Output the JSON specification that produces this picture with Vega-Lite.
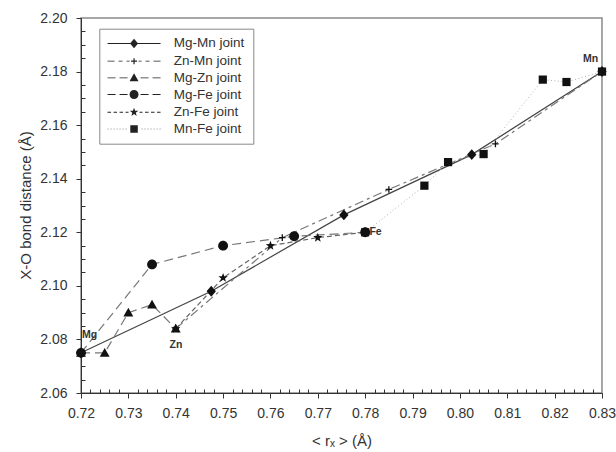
{
  "$schema": "https://vega.github.io/schema/vega-lite/v6.json",
  "width": 521,
  "height": 375,
  "autosize": "none",
  "padding": {"left": 81, "top": 18, "right": 14, "bottom": 59},
  "background": "white",
  "config": {"view": {"stroke": "#8a8a8a", "strokeWidth": 1.5}, "font": "Liberation Sans"},
  "resolve": {"scale": {"shape": "independent"}, "legend": {"shape": "independent"}},
  "datasets": {
    "pts": [
      {"series": "Mg-Mn joint", "x": 0.72, "y": 2.075},
      {"series": "Mg-Mn joint", "x": 0.7475, "y": 2.098},
      {"series": "Mg-Mn joint", "x": 0.7755, "y": 2.1265},
      {"series": "Mg-Mn joint", "x": 0.8025, "y": 2.149},
      {"series": "Mg-Mn joint", "x": 0.83, "y": 2.18},
      {"series": "Zn-Mn joint", "x": 0.74, "y": 2.084},
      {"series": "Zn-Mn joint", "x": 0.7625, "y": 2.118},
      {"series": "Zn-Mn joint", "x": 0.785, "y": 2.136},
      {"series": "Zn-Mn joint", "x": 0.8075, "y": 2.153},
      {"series": "Zn-Mn joint", "x": 0.83, "y": 2.18},
      {"series": "Mg-Zn joint", "x": 0.72, "y": 2.075},
      {"series": "Mg-Zn joint", "x": 0.725, "y": 2.075},
      {"series": "Mg-Zn joint", "x": 0.73, "y": 2.09},
      {"series": "Mg-Zn joint", "x": 0.735, "y": 2.093},
      {"series": "Mg-Zn joint", "x": 0.74, "y": 2.084},
      {"series": "Zn-Fe joint", "x": 0.74, "y": 2.084},
      {"series": "Zn-Fe joint", "x": 0.75, "y": 2.103},
      {"series": "Zn-Fe joint", "x": 0.76, "y": 2.115},
      {"series": "Zn-Fe joint", "x": 0.77, "y": 2.118},
      {"series": "Zn-Fe joint", "x": 0.78, "y": 2.12},
      {"series": "Mg-Fe joint", "x": 0.72, "y": 2.075},
      {"series": "Mg-Fe joint", "x": 0.735, "y": 2.108},
      {"series": "Mg-Fe joint", "x": 0.75, "y": 2.115},
      {"series": "Mg-Fe joint", "x": 0.765, "y": 2.1185},
      {"series": "Mg-Fe joint", "x": 0.78, "y": 2.12},
      {"series": "Mn-Fe joint", "x": 0.78, "y": 2.12},
      {"series": "Mn-Fe joint", "x": 0.7925, "y": 2.1374},
      {"series": "Mn-Fe joint", "x": 0.7975, "y": 2.1462},
      {"series": "Mn-Fe joint", "x": 0.805, "y": 2.1492},
      {"series": "Mn-Fe joint", "x": 0.8175, "y": 2.177},
      {"series": "Mn-Fe joint", "x": 0.8225, "y": 2.1761},
      {"series": "Mn-Fe joint", "x": 0.83, "y": 2.18}
    ],
    "labels": [
      {"label": "Mg", "x": 0.7202, "y": 2.0816},
      {"label": "Zn", "x": 0.7387, "y": 2.078},
      {"label": "Fe", "x": 0.7809, "y": 2.1202},
      {"label": "Mn", "x": 0.826, "y": 2.1847}
    ]
  },
  "encoding": {
    "x": {
      "field": "x", "type": "quantitative",
      "scale": {"domain": [0.72, 0.83], "nice": false, "zero": false},
      "axis": {
        "title": "< rₓ > (Å)",
        "values": [0.72,0.722,0.724,0.726,0.728,0.73,0.732,0.734,0.736,0.738,0.74,0.742,0.744,0.746,0.748,0.75,0.752,0.754,0.756,0.758,0.76,0.762,0.764,0.766,0.768,0.77,0.772,0.774,0.776,0.778,0.78,0.782,0.784,0.786,0.788,0.79,0.792,0.794,0.796,0.798,0.8,0.802,0.804,0.806,0.808,0.81,0.812,0.814,0.816,0.818,0.82,0.822,0.824,0.826,0.828,0.83],
        "labelExpr": "abs(datum.value*100 - round(datum.value*100)) < 0.01 ? format(datum.value, '.2f') : ''",
        "tickSize": {"condition": {"test": "abs(datum.value*100 - round(datum.value*100)) < 0.01", "value": 5}, "value": -4},
        "grid": false,
        "labelFlush": false,
        "labelOverlap": false,
        "labelPadding": 8,
        "labelFontSize": 14,
        "labelColor": "#333",
        "domainColor": "#333",
        "tickColor": "#333",
        "titleFontSize": 15,
        "titleFontWeight": "normal",
        "titleColor": "#333",
        "titleY": 47.5,
        "titleBaseline": "middle"
      }
    },
    "y": {
      "field": "y", "type": "quantitative",
      "scale": {"domain": [2.06, 2.2], "nice": false, "zero": false},
      "axis": {
        "title": "X-O bond distance (Å)",
        "values": [2.06,2.065,2.07,2.075,2.08,2.085,2.09,2.095,2.1,2.105,2.11,2.115,2.12,2.125,2.13,2.135,2.14,2.145,2.15,2.155,2.16,2.165,2.17,2.175,2.18,2.185,2.19,2.195,2.2],
        "labelExpr": "abs(datum.value*50 - round(datum.value*50)) < 0.01 ? format(datum.value, '.2f') : ''",
        "tickSize": {"condition": {"test": "abs(datum.value*50 - round(datum.value*50)) < 0.01", "value": 5}, "value": -4},
        "grid": false,
        "labelFlush": false,
        "labelOverlap": false,
        "labelPadding": 9,
        "labelFontSize": 14,
        "labelColor": "#333",
        "domainColor": "#333",
        "tickColor": "#333",
        "titleFontSize": 15,
        "titleFontWeight": "normal",
        "titleColor": "#333",
        "titleX": -56,
        "titleY": 187,
        "titleBaseline": "middle"
      }
    }
  },
  "layer": [
    {
      "data": {"name": "pts"},
      "transform": [{"filter": "datum.series === 'Mg-Mn joint'"}],
      "mark": {"type": "line", "strokeWidth": 1.2, "color": "#444444"},
      "encoding": {}
    },
    {
      "data": {"name": "pts"},
      "transform": [{"filter": "datum.series === 'Zn-Mn joint'"}],
      "mark": {"type": "line", "strokeWidth": 1.2, "color": "#777777", "strokeDash": [9, 4, 3, 4]},
      "encoding": {}
    },
    {
      "data": {"name": "pts"},
      "transform": [{"filter": "datum.series === 'Mg-Zn joint'"}],
      "mark": {"type": "line", "strokeWidth": 1.2, "color": "#777777", "strokeDash": [9, 5]},
      "encoding": {}
    },
    {
      "data": {"name": "pts"},
      "transform": [{"filter": "datum.series === 'Mg-Fe joint'"}],
      "mark": {"type": "line", "strokeWidth": 1.2, "color": "#777777", "strokeDash": [9, 5]},
      "encoding": {}
    },
    {
      "data": {"name": "pts"},
      "transform": [{"filter": "datum.series === 'Zn-Fe joint'"}],
      "mark": {"type": "line", "strokeWidth": 1.2, "color": "#666666", "strokeDash": [5, 3]},
      "encoding": {}
    },
    {
      "data": {"name": "pts"},
      "transform": [{"filter": "datum.series === 'Mn-Fe joint'"}],
      "mark": {"type": "line", "strokeWidth": 1, "color": "#b0b0b0", "strokeDash": [1, 2.5]},
      "encoding": {}
    },
    {
      "data": {"name": "pts"},
      "mark": {"type": "point", "filled": true, "size": 120, "opacity": 1, "color": "#111111", "strokeWidth": 0},
      "encoding": {
        "shape": {
          "field": "series", "type": "nominal",
          "scale": {
            "domain": ["Mg-Mn joint", "Zn-Mn joint", "Mg-Zn joint", "Mg-Fe joint", "Zn-Fe joint", "Mn-Fe joint"],
            "range": [
              "M0,-1L0.85,0L0,1L-0.85,0Z",
              "M-0.6,-0.12H-0.12V-0.6H0.12V-0.12H0.6V0.12H0.12V0.6H-0.12V0.12H-0.6Z",
              "M0,-0.9L0.9,0.7L-0.9,0.7Z",
              "M0.9,0A0.9,0.9 0 1,1 -0.9,0A0.9,0.9 0 1,1 0.9,0Z",
              "M0,-0.9L0.217,-0.299L0.856,-0.278L0.352,0.114L0.529,0.728L0,0.37L-0.529,0.728L-0.352,0.114L-0.856,-0.278L-0.217,-0.299Z",
              "M-0.75,-0.75H0.75V0.75H-0.75Z"
            ]
          },
          "legend": null
        }
      }
    },
    {
      "data": {"name": "pts"},
      "transform": [{"filter": "false"}],
      "mark": {"type": "point", "filled": true, "size": 100, "opacity": 1, "fill": "#222222", "strokeWidth": 0},
      "encoding": {
        "shape": {
          "field": "series", "type": "nominal",
          "scale": {
            "domain": ["Mg-Mn joint", "Zn-Mn joint", "Mg-Zn joint", "Mg-Fe joint", "Zn-Fe joint", "Mn-Fe joint"],
            "range": [
              "M-5.3,-0.09H5.3V0.09H-5.3ZM0,-0.95L0.8,0L0,0.95L-0.8,0Z",
              "M-5.3,-0.09H-3.9V0.09H-5.3ZM-3.1,-0.09H-2.3V0.09H-3.1ZM-1.5,-0.09H-0.9V0.09H-1.5ZM0.9,-0.09H1.5V0.09H0.9ZM2.3,-0.09H3.1V0.09H2.3ZM3.9,-0.09H5.3V0.09H3.9ZM-0.6,-0.12H-0.12V-0.6H0.12V-0.12H0.6V0.12H0.12V0.6H-0.12V0.12H-0.6Z",
              "M-5.3,-0.09H-3.7V0.09H-5.3ZM-2.9,-0.09H-1.3V0.09H-2.9ZM1.3,-0.09H2.9V0.09H1.3ZM3.7,-0.09H5.3V0.09H3.7ZM0,-0.9L0.9,0.7L-0.9,0.7Z",
              "M-5.3,-0.09H-3.7V0.09H-5.3ZM-2.9,-0.09H-1.3V0.09H-2.9ZM1.3,-0.09H2.9V0.09H1.3ZM3.7,-0.09H5.3V0.09H3.7ZM0.9,0A0.9,0.9 0 1,1 -0.9,0A0.9,0.9 0 1,1 0.9,0Z",
              "M-5.3,-0.09H-4.6V0.09H-5.3ZM-4.1,-0.09H-3.4V0.09H-4.1ZM-2.9,-0.09H-2.2V0.09H-2.9ZM-1.7,-0.09H-1.1V0.09H-1.7ZM1.1,-0.09H1.7V0.09H1.1ZM2.2,-0.09H2.9V0.09H2.2ZM3.4,-0.09H4.1V0.09H3.4ZM4.6,-0.09H5.3V0.09H4.6ZM0,-0.9L0.217,-0.299L0.856,-0.278L0.352,0.114L0.529,0.728L0,0.37L-0.529,0.728L-0.352,0.114L-0.856,-0.278L-0.217,-0.299Z",
              "M-5.3,-0.06H-5.1V0.06H-5.3ZM-4.7,-0.06H-4.5V0.06H-4.7ZM-4.1,-0.06H-3.9V0.06H-4.1ZM-3.5,-0.06H-3.3V0.06H-3.5ZM-2.9,-0.06H-2.7V0.06H-2.9ZM-2.3,-0.06H-2.1V0.06H-2.3ZM-1.7,-0.06H-1.5V0.06H-1.7ZM1.5,-0.06H1.7V0.06H1.5ZM2.1,-0.06H2.3V0.06H2.1ZM2.7,-0.06H2.9V0.06H2.7ZM3.3,-0.06H3.5V0.06H3.3ZM3.9,-0.06H4.1V0.06H3.9ZM4.5,-0.06H4.7V0.06H4.5ZM5.1,-0.06H5.3V0.06H5.1ZM-0.75,-0.75H0.75V0.75H-0.75Z"
            ]
          },
          "legend": {
            "title": null,
            "orient": "none",
            "legendX": 18.3,
            "legendY": 10.7,
            "padding": 8,
            "strokeColor": "#888888",
            "fillColor": "white",
            "labelFontSize": 13.5,
            "labelFont": "Liberation Sans",
            "labelColor": "#333",
            "symbolSize": 100,
            "symbolOffset": 20,
            "labelOffset": 33,
            "rowPadding": 1.7,
            "symbolFillColor": "#222222",
            "symbolOpacity": 1
          }
        }
      }
    },
    {
      "data": {"name": "labels"},
      "mark": {"type": "text", "align": "left", "baseline": "middle", "fontSize": 10.5, "fontWeight": "bold", "color": "#333333"},
      "encoding": {"text": {"field": "label", "type": "nominal"}}
    }
  ]
}
